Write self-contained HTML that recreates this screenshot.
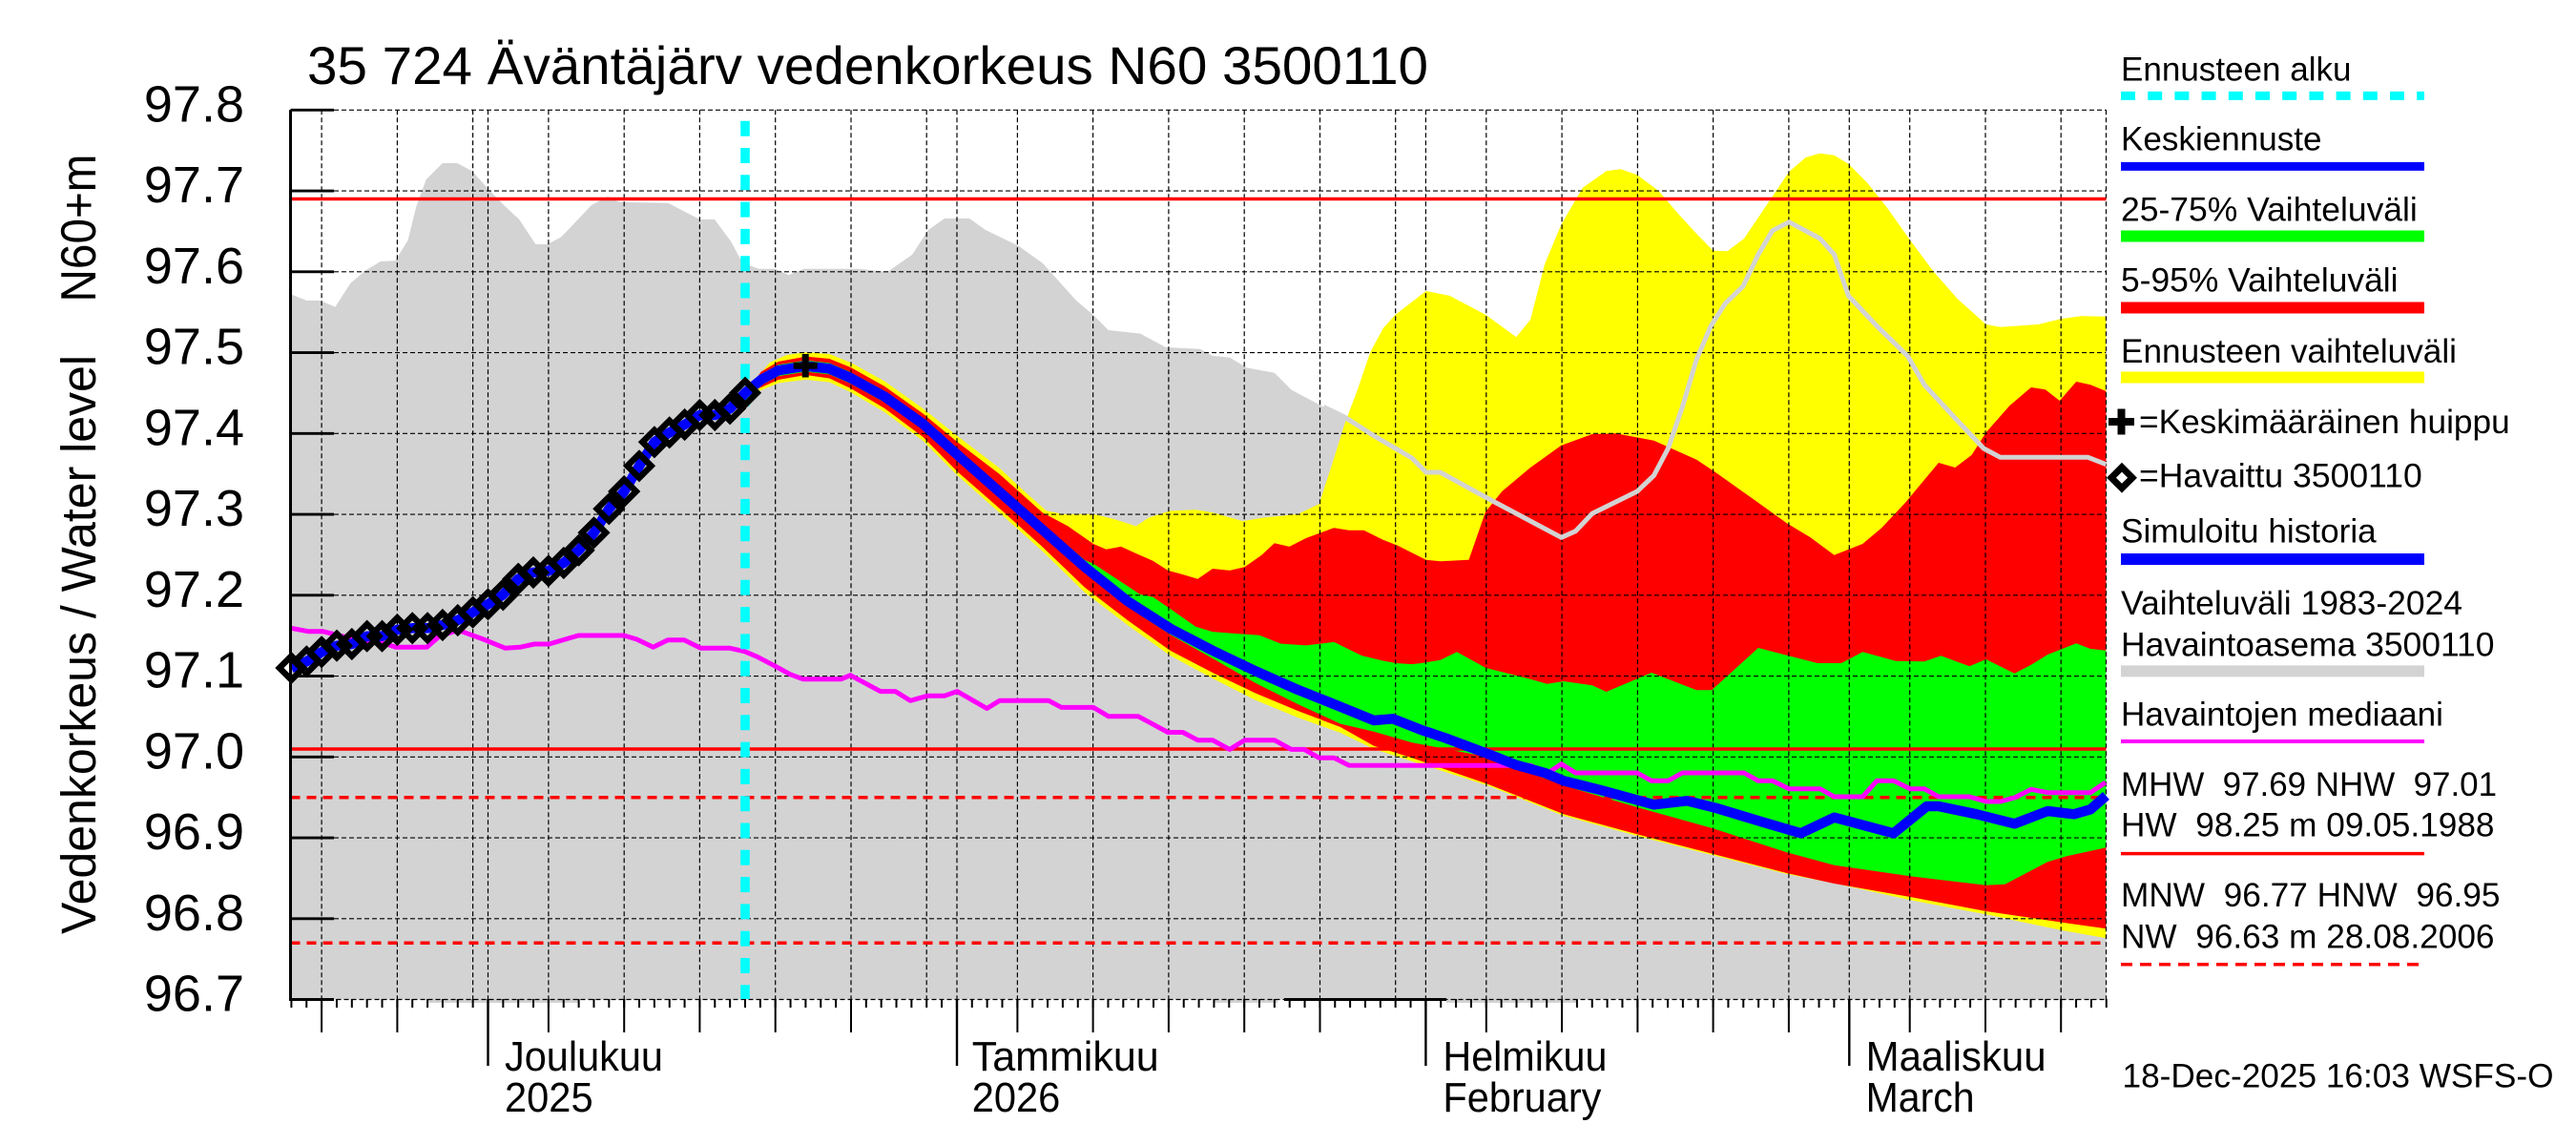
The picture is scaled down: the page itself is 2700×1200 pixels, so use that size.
<!DOCTYPE html>
<html><head><meta charset="utf-8"><style>
html,body{margin:0;padding:0;background:#fff;overflow:hidden;}
svg{display:block;}
text{font-family:"Liberation Sans",Arial,sans-serif;fill:#000;white-space:pre;}
</style></head><body>
<svg xmlns="http://www.w3.org/2000/svg" width="2700" height="1200" viewBox="0 0 2700 1200">
<rect width="2700" height="1200" fill="#fff"/>
<!-- historical range gray -->
<polygon fill="#d3d3d3" points="304.5,308.3 321.4,315 335.8,315 351.3,321.7 367.4,296.7 383.4,283.3 398.9,274 414.4,273.3 427.6,251.7 436.2,216.7 446.6,188.3 463.8,171 479.3,171 494.8,179.3 512,198.3 528.1,215 544.2,230 561.4,256 574,256 588.4,248.3 602.7,233.3 619.9,215 637.1,206 648.6,211.7 700.3,212.7 717.5,221.7 733.6,230 749.1,230 766.3,253.3 777.8,275 795,281.7 812.2,281.7 826.6,288.3 842.6,281.7 900,281.7 930,285 956,267 973,241 990,229 1016,229 1033,241 1068,258 1093,276 1128,315 1146,330 1161.7,346 1195,349.6 1222,364 1257.6,365.7 1271,372.9 1288.9,374.6 1306.7,385.4 1335.8,390.7 1353.6,408.6 1387.1,426.4 1409.4,437.1 1440,456.7 1479.8,480 1494.7,495 1509.6,495 1564.4,525 1636.5,563.3 1651.4,556.7 1668.8,538.3 1716,515 1733.5,498.3 1748.4,470 1763.3,426.7 1778.2,376.7 1793.2,341.7 1808.1,318.3 1827,300 1842.9,266.7 1857.8,241.7 1875.2,232.7 1907.6,250 1922.5,266.7 1937.4,310 1967.2,341.7 1999.6,373.3 2017,403.3 2049.3,438.3 2079.2,470 2096.6,479.3 2188.6,479.3 2207.5,486.7 2207.5,1047.5 304.5,1047.5"/>
<rect x="447" y="1047" width="159" height="4" fill="#d3d3d3"/>
<rect x="1272" y="1047" width="67" height="4" fill="#d3d3d3"/>
<rect x="1516" y="1047" width="137" height="4" fill="#d3d3d3"/>
<!-- yellow -->
<polygon fill="#ffff00" points="781,411.7 789,401 806.8,380 824.6,372 844.7,369.3 869.3,371 891.6,380 927.3,399.6 967.5,428.2 1003.2,456.8 1047.8,490.7 1074.6,515.7 1096.9,535.4 1114.8,538.9 1146,538.9 1168.4,544.3 1190.7,551.4 1204.1,542.5 1226.4,535.4 1253.2,534.3 1271,537.1 1302.3,546.1 1324.6,542.5 1360.3,538.9 1382.6,528.2 1396,487.1 1409.4,444.3 1422.8,408.6 1436.2,369.3 1449.6,344.3 1462.4,330 1494.7,305 1519.6,310 1557.4,330 1589.2,353.3 1604.1,335 1619.1,276.7 1636.5,235 1658.9,196.7 1683.7,179.3 1698.7,177.3 1716,183.3 1738.4,200 1758.3,223.3 1778.2,245 1795.6,262.7 1810.6,263.3 1828,250 1852.8,213.3 1875.2,180 1892.6,165 1907.6,160.7 1922.5,162.7 1937.4,171.7 1957.3,191.7 1977.2,216.7 2002.1,251.7 2026.9,285 2051.8,313.3 2081.6,340 2096.6,342.7 2136.4,340 2161.2,334 2181.1,331.3 2207.5,331.7 2207.5,983.3 2161.2,975 2081.6,958.3 2002.1,943.3 1927.5,926.7 1872.7,916 1718.5,876.7 1639,855 1559.4,823.3 1440,785 1405,768 1360.3,752 1315.7,733.6 1271,711 1226.4,687 1181.8,655 1137.1,621 1092.5,577.5 1047.8,537.5 1003.2,497.9 967.5,462 927.3,432 891.6,411 869.3,400.5 844.7,397.9 815.7,401.5 797.9,409"/>
<!-- red -->
<polygon fill="#ff0000" points="781,411.7 797.9,389.5 815.7,379 844.7,373.6 869.3,376 891.6,385 927.3,405 967.5,433.5 1003.2,463 1047.8,497 1074.6,521 1092.5,537.1 1119.3,551.4 1146,570 1159.4,575.7 1175,572.9 1190.7,580 1208.6,587.9 1224.2,597.9 1239.8,602.1 1255.4,606.8 1271,596 1288.9,597.9 1304.5,594.3 1322.4,581.8 1335.8,569.3 1351.4,572.9 1369.2,563.9 1398.3,553.2 1413.9,555.7 1429.5,555.7 1449.6,565.7 1464.9,571.7 1494.7,586.7 1509.6,588.3 1539.5,586.7 1556.9,536.7 1574.3,515 1604.1,490 1636.5,466.7 1668.8,455 1693.7,454.3 1733.5,461.7 1778.2,481.7 1798.1,495 1837.9,523.3 1872.7,548.3 1897.6,563.3 1922.5,581.7 1952.3,570 1972.2,553.3 1997.1,526.7 2031.9,485 2049.3,490 2066.7,476.7 2081.6,453.3 2106.5,425 2128.9,406 2143.8,408.3 2158.8,420 2176.2,400 2191.1,403.3 2207.5,410 2207.5,973.3 2161.2,966.7 2081.6,955 2002.1,940 1922.5,926 1872.7,915 1795.6,895 1718.5,875 1639,853.3 1559.4,821.7 1480,794.3 1440,781.7 1405,762 1360.3,745 1315.7,726.4 1271,705 1226.4,681.8 1181.8,650 1137.1,615.7 1092.5,573 1047.8,533 1003.2,494 967.5,458 927.3,428 891.6,407 869.3,396.5 844.7,393 815.7,398 797.9,406"/>
<!-- green -->
<polygon fill="#00ff00" points="781,411.7 797.9,391.9 815.7,382.2 844.7,377.6 869.3,380.4 891.6,390.1 927.3,409.7 967.5,438.3 1003.2,470.4 1047.8,509.7 1092.5,549 1137.1,587 1146,590.7 1195,622.9 1208.6,625.7 1226.4,637.9 1253.2,656.8 1271,662.1 1293.3,663.9 1320.1,665.7 1342.5,674.6 1369.2,676.4 1398.3,672.9 1427.3,687.1 1449.6,692.5 1463,695 1480,696.1 1489.7,695 1509.6,691.7 1527,683.3 1557.4,700 1604.1,711.7 1621.5,716.7 1639,714 1668.8,718.3 1683.7,725 1731,705 1778.2,723.3 1794.2,723.3 1842.9,679 1872.7,686.7 1905,695 1930,695 1952.3,683.3 1987.1,692.7 2017,693.3 2034.4,687.3 2064.2,698.3 2081.6,691 2111.5,705.7 2128.9,696.7 2146.3,686 2176.2,674.3 2191.1,680 2207.5,681.7 2207.5,888.3 2166.2,897.3 2146.3,903.3 2101.5,926.7 2081.6,927.7 2002.1,918.3 1922.5,906.7 1872.7,893.3 1795.6,868.3 1718.5,846.7 1639,823.3 1559.4,793.3 1480,778.2 1440,766.7 1405,758.6 1360.3,738 1315.7,715.7 1271,690 1226.4,665 1181.8,636 1137.1,600.3 1092.5,561 1047.8,521.7 1003.2,482.4 967.5,450.3 927.3,421.7 891.6,402.1 869.3,392.4 844.7,389.6 815.7,394.2 797.9,403.9"/>
<!-- grid -->
<g stroke="#000" stroke-width="1.2" stroke-dasharray="5 3" fill="none">
<path d="M350,115.3H2207.5M350,200.05H2207.5M350,284.8H2207.5M350,369.55H2207.5M350,454.3H2207.5M350,539.05H2207.5M350,623.8H2207.5M350,708.55H2207.5M350,793.3H2207.5M350,878.05H2207.5M350,962.8H2207.5"/>
<path d="M337.1,115.3V1047M416.4,115.3V1047M495.6,115.3V1047M511.5,115.3V1047M574.9,115.3V1047M654.2,115.3V1047M733.4,115.3V1047M812.7,115.3V1047M892,115.3V1047M971.2,115.3V1047M1003,115.3V1047M1066.4,115.3V1047M1145.6,115.3V1047M1224.9,115.3V1047M1304.2,115.3V1047M1383.5,115.3V1047M1462.7,115.3V1047M1494.4,115.3V1047M1557.8,115.3V1047M1637.1,115.3V1047M1716.4,115.3V1047M1795.6,115.3V1047M1874.9,115.3V1047M1938.3,115.3V1047M2001.7,115.3V1047M2081,115.3V1047M2160.2,115.3V1047M2207.5,115.3V1047"/>
<path d="M304.5,1047.5H2207.5"/>
</g>
<!-- reference lines -->
<g stroke="#ff0000" fill="none" stroke-width="3.5">
<path d="M304.5,208.5H2207.5M304.5,785H2207.5"/>
<path d="M304.5,835.7H2207.5M304.5,988.2H2207.5" stroke-dasharray="10 7"/>
</g>
<!-- historical upper envelope line -->
<polyline fill="none" stroke="#d3d3d3" stroke-width="5" stroke-linejoin="round" points="1387.1,426.4 1409.4,437.1 1440,456.7 1479.8,480 1494.7,495 1509.6,495 1564.4,525 1636.5,563.3 1651.4,556.7 1668.8,538.3 1716,515 1733.5,498.3 1748.4,470 1763.3,426.7 1778.2,376.7 1793.2,341.7 1808.1,318.3 1827,300 1842.9,266.7 1857.8,241.7 1875.2,232.7 1907.6,250 1922.5,266.7 1937.4,310 1967.2,341.7 1999.6,373.3 2017,403.3 2049.3,438.3 2079.2,470 2096.6,479.3 2188.6,479.3 2207.5,486.7"/>
<!-- magenta median -->
<polyline fill="none" stroke="#ff00ff" stroke-width="5" stroke-linejoin="round" points="305,658.3 323,661.7 338.3,661.7 384.2,673.3 399.5,673.3 414.8,678.3 447.3,678.3 460.7,666.7 476,661.7 483.7,661.7 506.7,670 529.6,679.3 545,678.3 560.2,675 575.5,675 606.2,666 654,666 667.4,670 684.6,678.3 700,670.7 717.1,670.7 734.4,679.3 765,679.3 780.3,682.7 793.7,688.3 812.8,698.3 828.1,706.7 841.5,711.7 881.7,711.7 891.3,707.7 922.8,724.6 938.5,724.6 954.1,734.3 972,729.3 989.8,729.3 1003.2,724.6 1034.4,742.5 1047.8,734.3 1099.2,734.3 1112.6,741.4 1146,741.4 1161.7,750.7 1192.9,750.7 1224.2,767.5 1239.8,767.5 1255.4,775.7 1271,775.7 1288.9,785.4 1304.5,775.7 1335.8,775.7 1353.6,785.4 1367,785.4 1382.6,794.3 1398.3,794.3 1413.9,802.1 1604.1,802.3 1621.5,810.7 1636.5,800.7 1651.4,810 1716,810 1731,818.3 1748.4,818.3 1763.3,810 1828,810 1842.9,818.3 1857.8,818.3 1875.2,826.7 1907.6,826.7 1922.5,835 1952.3,835 1967.2,818.3 1984.7,818.3 2002.1,826.7 2017,826.7 2031.9,835 2064.2,835 2081.6,840 2096.6,840 2111.5,836 2128.9,827.3 2146.3,830.7 2191.1,830.7 2207,820"/>
<!-- forecast start -->
<line x1="781" y1="126.7" x2="781" y2="1047" stroke="#00ffff" stroke-width="9.6" stroke-dasharray="16 12.3"/>
<!-- blue simulated + median -->
<polyline fill="none" stroke="#0000ff" stroke-width="10.5" stroke-linejoin="round" points="305.4,700 321.3,693.3 337.1,683.3 353,676.7 368.8,675 384.7,666.7 400.5,666.7 416.4,660 432.2,658.3 448.1,658.3 463.9,655 479.8,650 495.6,641.7 511.5,633.3 527.3,623.3 543.2,606.7 559,600 574.9,598.3 590.8,590 606.6,576.7 622.5,558.3 638.3,533.3 654.2,515 670,488.3 685.9,463.3 701.7,453.3 717.6,445 733.4,435 749.3,435 765.1,428.3 781,411.7 797.9,397.9 815.7,388.2 844.7,383.6 869.3,386.4 891.6,396.1 927.3,415.7 967.5,444.3 1003.2,476.4 1047.8,515.7 1092.5,555 1137.1,594.3 1181.8,630 1226.4,658.6 1271,681.8 1315.7,703.2 1360.3,722.9 1405,740.7 1440,755 1459.9,753.3 1489.7,765 1514.6,773.3 1559.4,790 1589.2,801.7 1619.1,810 1639,818.3 1678.8,828.3 1733.5,843.3 1768.3,839.3 1798.1,846.7 1847.9,861.7 1887.7,873.3 1922.5,856.7 1984.7,873.3 2019.5,845 2031.9,845 2071.7,853.3 2111.5,863.3 2146.3,850 2173.7,853.3 2191.1,848.3 2207.5,834"/>
<!-- observed diamonds -->
<path fill="none" stroke="#000" stroke-width="6.5" stroke-linejoin="miter" d="M305.4,687.5L317.9,700L305.4,712.5L292.9,700Z M321.3,680.8L333.8,693.3L321.3,705.8L308.8,693.3Z M337.1,670.8L349.6,683.3L337.1,695.8L324.6,683.3Z M353,664.2L365.5,676.7L353,689.2L340.5,676.7Z M368.8,662.5L381.3,675L368.8,687.5L356.3,675Z M384.7,654.2L397.2,666.7L384.7,679.2L372.2,666.7Z M400.5,654.2L413,666.7L400.5,679.2L388,666.7Z M416.4,647.5L428.9,660L416.4,672.5L403.9,660Z M432.2,645.8L444.7,658.3L432.2,670.8L419.7,658.3Z M448.1,645.8L460.6,658.3L448.1,670.8L435.6,658.3Z M463.9,642.5L476.4,655L463.9,667.5L451.4,655Z M479.8,637.5L492.3,650L479.8,662.5L467.3,650Z M495.6,629.2L508.1,641.7L495.6,654.2L483.1,641.7Z M511.5,620.8L524,633.3L511.5,645.8L499,633.3Z M527.3,610.8L539.8,623.3L527.3,635.8L514.8,623.3Z M543.2,594.2L555.7,606.7L543.2,619.2L530.7,606.7Z M559,587.5L571.5,600L559,612.5L546.5,600Z M574.9,585.8L587.4,598.3L574.9,610.8L562.4,598.3Z M590.8,577.5L603.3,590L590.8,602.5L578.3,590Z M606.6,564.2L619.1,576.7L606.6,589.2L594.1,576.7Z M622.5,545.8L635,558.3L622.5,570.8L610,558.3Z M638.3,520.8L650.8,533.3L638.3,545.8L625.8,533.3Z M654.2,502.5L666.7,515L654.2,527.5L641.7,515Z M670,475.8L682.5,488.3L670,500.8L657.5,488.3Z M685.9,450.8L698.4,463.3L685.9,475.8L673.4,463.3Z M701.7,440.8L714.2,453.3L701.7,465.8L689.2,453.3Z M717.6,432.5L730.1,445L717.6,457.5L705.1,445Z M733.4,422.5L745.9,435L733.4,447.5L720.9,435Z M749.3,422.5L761.8,435L749.3,447.5L736.8,435Z M765.1,415.8L777.6,428.3L765.1,440.8L752.6,428.3Z M781,399.2L793.5,411.7L781,424.2L768.5,411.7Z"/>
<!-- mean peak cross -->
<path stroke="#000" stroke-width="7" d="M831.7,383.3H856.7M844.2,371V395.5"/>
<!-- axes -->
<g stroke="#000" fill="none">
<line x1="304.5" y1="115.3" x2="304.5" y2="1049" stroke-width="3"/>
<path stroke-width="2.8" d="M304.5,115.3H350M304.5,200.05H350M304.5,284.8H350M304.5,369.55H350M304.5,454.3H350M304.5,539.05H350M304.5,623.8H350M304.5,708.55H350M304.5,793.3H350M304.5,878.05H350M304.5,962.8H350M304.5,1047.5H350"/>
<path stroke-width="3" d="M304.5,1047.5H350M1346,1047.5H1516"/>
<line x1="304.4" y1="1051.5" x2="2210" y2="1051.5" stroke-width="9" stroke-dasharray="2 13.853"/>
<path stroke-width="2" d="M337.1,1047V1082M416.4,1047V1082M574.9,1047V1082M654.2,1047V1082M733.4,1047V1082M812.7,1047V1082M892,1047V1082M1066.4,1047V1082M1145.6,1047V1082M1224.9,1047V1082M1304.2,1047V1082M1383.5,1047V1082M1557.8,1047V1082M1637.1,1047V1082M1716.4,1047V1082M1795.6,1047V1082M1874.9,1047V1082M2001.7,1047V1082M2081,1047V1082M2160.2,1047V1082"/>
<path stroke-width="2.4" d="M511.5,1047V1117M1003,1047V1117M1494.4,1047V1117M1938.3,1047V1117"/>
</g>
<!-- title -->
<text x="322" y="88" font-size="56" textLength="1175" lengthAdjust="spacingAndGlyphs">35 724 Äväntäjärv vedenkorkeus N60 3500110</text>
<!-- y tick labels -->
<g font-size="54" text-anchor="end">
<text x="256" y="127.3">97.8</text>
<text x="256" y="212">97.7</text>
<text x="256" y="296.8">97.6</text>
<text x="256" y="381.5">97.5</text>
<text x="256" y="466.3">97.4</text>
<text x="256" y="551">97.3</text>
<text x="256" y="635.8">97.2</text>
<text x="256" y="720.5">97.1</text>
<text x="256" y="805.3">97.0</text>
<text x="256" y="890">96.9</text>
<text x="256" y="974.8">96.8</text>
<text x="256" y="1059.5">96.7</text>
</g>
<!-- y axis title -->
<text transform="translate(100,239) rotate(-90)" font-size="52" text-anchor="middle" textLength="155" lengthAdjust="spacingAndGlyphs">N60+m</text>
<text transform="translate(100,675.5) rotate(-90)" font-size="51" text-anchor="middle" textLength="607" lengthAdjust="spacingAndGlyphs">Vedenkorkeus / Water level</text>
<!-- x labels -->
<g font-size="44">
<text x="529" y="1122" textLength="166" lengthAdjust="spacingAndGlyphs">Joulukuu</text>
<text x="529" y="1165" textLength="92.6" lengthAdjust="spacingAndGlyphs">2025</text>
<text x="1018.7" y="1122" textLength="196" lengthAdjust="spacingAndGlyphs">Tammikuu</text>
<text x="1018.7" y="1165" textLength="92.6" lengthAdjust="spacingAndGlyphs">2026</text>
<text x="1512.4" y="1122" textLength="172" lengthAdjust="spacingAndGlyphs">Helmikuu</text>
<text x="1512.4" y="1165" textLength="166" lengthAdjust="spacingAndGlyphs">February</text>
<text x="1955.6" y="1122" textLength="189" lengthAdjust="spacingAndGlyphs">Maaliskuu</text>
<text x="1955.6" y="1165" textLength="114" lengthAdjust="spacingAndGlyphs">March</text>
</g>
<!-- legend -->
<g font-size="35.5">
<text x="2223" y="84.7" textLength="241.5" lengthAdjust="spacingAndGlyphs">Ennusteen alku</text>
<text x="2223" y="157.3" textLength="210.5" lengthAdjust="spacingAndGlyphs">Keskiennuste</text>
<text x="2223" y="231.7" textLength="310.8" lengthAdjust="spacingAndGlyphs">25-75% Vaihteluväli</text>
<text x="2223" y="305.3" textLength="290.5" lengthAdjust="spacingAndGlyphs">5-95% Vaihteluväli</text>
<text x="2223" y="379.8" textLength="352" lengthAdjust="spacingAndGlyphs">Ennusteen vaihteluväli</text>
<text x="2242" y="454.2" textLength="388.7" lengthAdjust="spacingAndGlyphs">=Keskimääräinen huippu</text>
<text x="2242" y="510.7" textLength="296.8" lengthAdjust="spacingAndGlyphs">=Havaittu 3500110</text>
<text x="2223" y="568.7" textLength="267.7" lengthAdjust="spacingAndGlyphs">Simuloitu historia</text>
<text x="2223" y="644" textLength="358" lengthAdjust="spacingAndGlyphs">Vaihteluväli 1983-2024</text>
<text x="2223" y="687.3" textLength="391.5" lengthAdjust="spacingAndGlyphs">Havaintoasema 3500110</text>
<text x="2223" y="760.7" textLength="338" lengthAdjust="spacingAndGlyphs">Havaintojen mediaani</text>
<text x="2223" y="834.2" textLength="394" lengthAdjust="spacingAndGlyphs">MHW  97.69 NHW  97.01</text>
<text x="2223" y="876.3" textLength="391.5" lengthAdjust="spacingAndGlyphs">HW  98.25 m 09.05.1988</text>
<text x="2223" y="950.2" textLength="397.5" lengthAdjust="spacingAndGlyphs">MNW  96.77 HNW  96.95</text>
<text x="2223" y="993.4" textLength="391.5" lengthAdjust="spacingAndGlyphs">NW  96.63 m 28.08.2006</text>
<text x="2224.5" y="1139.6" textLength="452" lengthAdjust="spacingAndGlyphs">18-Dec-2025 16:03 WSFS-O</text>
</g>
<g fill="none">
<line x1="2223" y1="100.4" x2="2541" y2="100.4" stroke="#00ffff" stroke-width="9" stroke-dasharray="15 13.2"/>
<line x1="2223" y1="174.4" x2="2541" y2="174.4" stroke="#0000ff" stroke-width="9"/>
<line x1="2223" y1="247.5" x2="2541" y2="247.5" stroke="#00ff00" stroke-width="12"/>
<line x1="2223" y1="322.5" x2="2541" y2="322.5" stroke="#ff0000" stroke-width="12"/>
<line x1="2223" y1="395.5" x2="2541" y2="395.5" stroke="#ffff00" stroke-width="12"/>
<line x1="2223" y1="586" x2="2541" y2="586" stroke="#0000ff" stroke-width="12"/>
<line x1="2223" y1="703.4" x2="2541" y2="703.4" stroke="#d3d3d3" stroke-width="12"/>
<line x1="2223" y1="777" x2="2541" y2="777" stroke="#ff00ff" stroke-width="4"/>
<line x1="2223" y1="894.6" x2="2541" y2="894.6" stroke="#ff0000" stroke-width="3.5"/>
<line x1="2223" y1="1010.7" x2="2541" y2="1010.7" stroke="#ff0000" stroke-width="3.5" stroke-dasharray="12 8"/>
<path stroke="#000" stroke-width="8" d="M2210,442H2237M2223.5,428.5V455.5"/>
<path stroke="#000" stroke-width="7" stroke-linejoin="miter" d="M2224,489.7L2235,500.7L2224,511.7L2213,500.7Z"/>
</g>
</svg>
</body></html>
